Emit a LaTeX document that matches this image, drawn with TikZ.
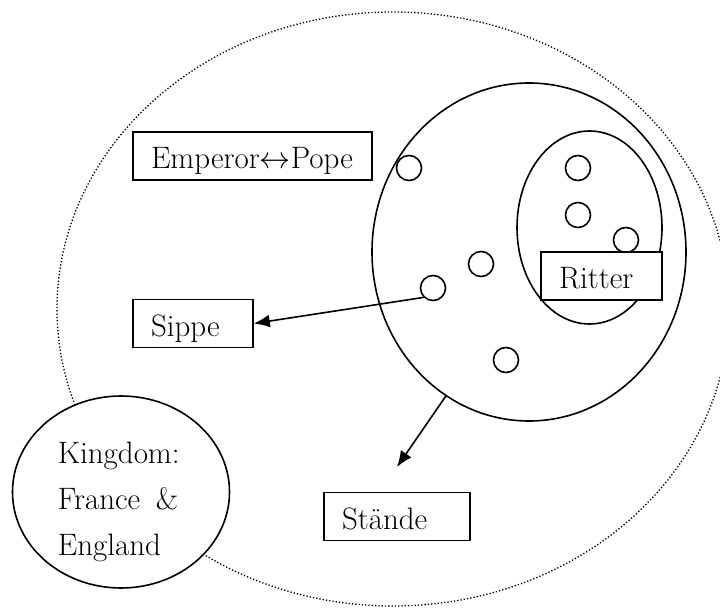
\documentclass[tikz,border=0pt]{standalone}
\usepackage{fontspec}
\usepackage{unicode-math}
\usepackage{tikz}
\usetikzlibrary{shapes.geometric,arrows.meta}

\begin{document}
\begin{tikzpicture}[x=1pt,y=-1pt,line width=1.6pt,
        font=\fontsize{31}{46}\selectfont,
        namebox/.style={draw,fill=white,inner xsep=18pt,inner ysep=0pt,align=left,
            minimum height=48pt,text height=28pt,text depth=2pt},
        oval/.style={draw,ellipse,inner sep=0pt},
        member/.style={draw,circle,inner sep=0pt,minimum size=25pt},
        arrow/.style={-{Latex[length=16pt,width=13pt]}}]
        \useasboundingbox (0,0) rectangle (720,609);
        \clip (0,0) rectangle (720,609);

        % Outer dotted realm
        \node[oval,line width=1.3pt,dash pattern=on 1.3pt off 2pt,minimum width=672pt,minimum height=594pt] (empire) at (393,309) {};

        % Kingdom on the edge
        \node[oval,fill=white,minimum width=217pt,minimum height=192pt] (kingdom) at (121,492) {};
        \node[anchor=north west,align=left,inner sep=0pt] (kingdomtext) at (57,441) {Kingdom:\\France\enspace\&\\England};

        % Big group and the knights inside
        \node[oval,minimum width=314pt,minimum height=338pt] (realm) at (529,252) {};
        \node[oval,minimum width=145pt,minimum height=193pt] (knights) at (589.5,227.5) {};

        % Members
        \node[member] (c1) at (409,168) {};
        \node[member] (c2) at (578,168) {};
        \node[member] (c3) at (578,215) {};
        \node[member] (c4) at (626,240) {};
        \node[member] (c5) at (481,264) {};
        \node[member] (c6) at (433,288) {};
        \node[member] (c7) at (506,360) {};

        % Labels
        \node[namebox,text width=203pt] (pope) at (252.5,156) {Emperor$\leftrightarrow$Pope};
        \node[namebox,text width=84pt] (sippe) at (193,323.5) {Sippe};
        \node[namebox,text width=85pt] (ritter) at (601.5,276) {Ritter};
        \node[namebox,text width=110pt] (staende) at (397,516.5) {Stände};

        % Arrows
        \coordinate (staendetip) at (397,467);
        \draw[arrow] (c6.south west) -- (sippe.east);
        \draw[arrow] (realm.240) -- (staendetip);
    \end{tikzpicture}
\end{document}
